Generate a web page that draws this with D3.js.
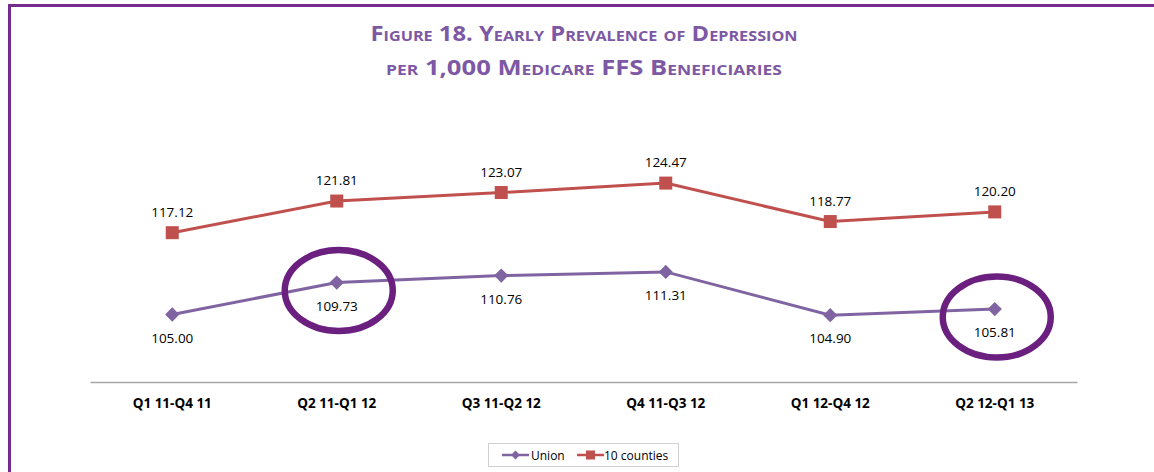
<!DOCTYPE html>
<html><head><meta charset="utf-8">
<script src="https://cdn.jsdelivr.net/npm/d3@7"></script>
<style>html,body{margin:0;padding:0;background:#fff;}svg{display:block;}</style>
</head><body>
<svg id="chart" width="1154" height="472"></svg>
<script>
const categories = ["Q1 11-Q4 11","Q2 11-Q1 12","Q3 11-Q2 12","Q4 11-Q3 12","Q1 12-Q4 12","Q2 12-Q1 13"];
const unionValues = [105.00,109.73,110.76,111.31,104.90,105.81];
const countiesValues = [117.12,121.81,123.07,124.47,118.77,120.20];
const seriesNames = ["Union","10 counties"];
const highlighted = [1,5];
const titleLines = ["Figure 18. Yearly Prevalence of Depression","per 1,000 Medicare FFS Beneficiaries"];

const svg = d3.select("#chart");
const font = "'Open Sans', 'Noto Sans', sans-serif";
const purple = "#8064A2", red = "#C0504D", frame = "#772A8D", titleCol = "#7D58A4";

svg.append("rect").attr("x",9.5).attr("y",5.5).attr("width",1300).attr("height",600)
  .attr("fill","none").attr("stroke",frame).attr("stroke-width",3);

const x = d3.scaleBand().domain(categories).range([90,1077]);
const y = d3.scaleLinear().domain([95,130]).range([382,145.75]);
const cx = c => x(c) + x.bandwidth()/2;

// title
svg.selectAll("text.title").data(titleLines).join("text").attr("class","title")
  .attr("x",584).attr("y",(d,i)=>41+i*34).attr("text-anchor","middle")
  .attr("font-family",font).attr("font-weight","bold").attr("font-size",22)
  .style("font-variant","small-caps").attr("fill",titleCol)
  .attr("textLength",(d,i)=>i===0?427:396).attr("lengthAdjust","spacingAndGlyphs")
  .text(d=>d);

// axis
const ax = svg.append("g").attr("transform","translate(0,382)")
  .call(d3.axisBottom(x).tickSize(0).tickPadding(0));
ax.select(".domain").attr("stroke","#a6a6a6").attr("stroke-width",1.5);
ax.selectAll("text").attr("font-family",font).attr("font-weight","bold")
  .attr("font-size",13.5).attr("fill","#000").attr("dy",0).attr("y",26);

const line = d3.line().x((d,i)=>cx(categories[i])).y(d=>y(d));

// counties series
svg.append("path").datum(countiesValues).attr("d",line).attr("fill","none")
  .attr("stroke",red).attr("stroke-width",3);
svg.selectAll("rect.cm").data(countiesValues).join("rect").attr("class","cm")
  .attr("x",(d,i)=>cx(categories[i])-6.5).attr("y",d=>y(d)-6.5)
  .attr("width",13).attr("height",13).attr("fill",red);
svg.selectAll("text.cl").data(countiesValues).join("text").attr("class","cl")
  .attr("x",(d,i)=>cx(categories[i])).attr("y",d=>y(d)-16).attr("text-anchor","middle")
  .attr("font-family",font).attr("font-size",13.5).attr("fill","#000").text(d=>d.toFixed(2));

// union series
svg.append("path").datum(unionValues).attr("d",line).attr("fill","none")
  .attr("stroke",purple).attr("stroke-width",3);
svg.selectAll("path.um").data(unionValues).join("path").attr("class","um")
  .attr("d",d3.symbol(d3.symbolDiamond2,130))
  .attr("transform",(d,i)=>`translate(${cx(categories[i])},${y(d)})`).attr("fill",purple);
svg.selectAll("text.ul").data(unionValues).join("text").attr("class","ul")
  .attr("x",(d,i)=>cx(categories[i])).attr("y",d=>y(d)+28).attr("text-anchor","middle")
  .attr("font-family",font).attr("font-size",13.5).attr("fill","#000").text(d=>d.toFixed(2));

// highlight ellipses
svg.selectAll("ellipse.hl").data(highlighted).join("ellipse").attr("class","hl")
  .attr("cx",i=>cx(categories[i])+2).attr("cy",i=>y(unionValues[i])+8)
  .attr("rx",54).attr("ry",40.5).attr("fill","none").attr("stroke","#6B2080").attr("stroke-width",6.5);

// legend
const lg = svg.append("g");
lg.append("rect").attr("x",488.5).attr("y",443.5).attr("width",190).attr("height",23)
  .attr("fill","#fff").attr("stroke","#d0d0d0");
const items = [{name:seriesNames[0],c:purple,lx:502,tx:531,m:"d"},{name:seriesNames[1],c:red,lx:577,tx:604,m:"s"}];
items.forEach(it=>{
  lg.append("line").attr("x1",it.lx).attr("x2",it.lx+27).attr("y1",455).attr("y2",455)
    .attr("stroke",it.c).attr("stroke-width",2.5);
  if(it.m==="d") lg.append("path").attr("d",d3.symbol(d3.symbolDiamond2,50))
    .attr("transform",`translate(${it.lx+13.5},455)`).attr("fill",it.c);
  else lg.append("rect").attr("x",it.lx+9).attr("y",450.5).attr("width",9).attr("height",9).attr("fill",it.c);
  lg.append("text").attr("x",it.tx).attr("y",459.5).attr("font-family",font).attr("font-size",12)
    .attr("fill","#000").text(it.name);
});
</script>
</body></html>
